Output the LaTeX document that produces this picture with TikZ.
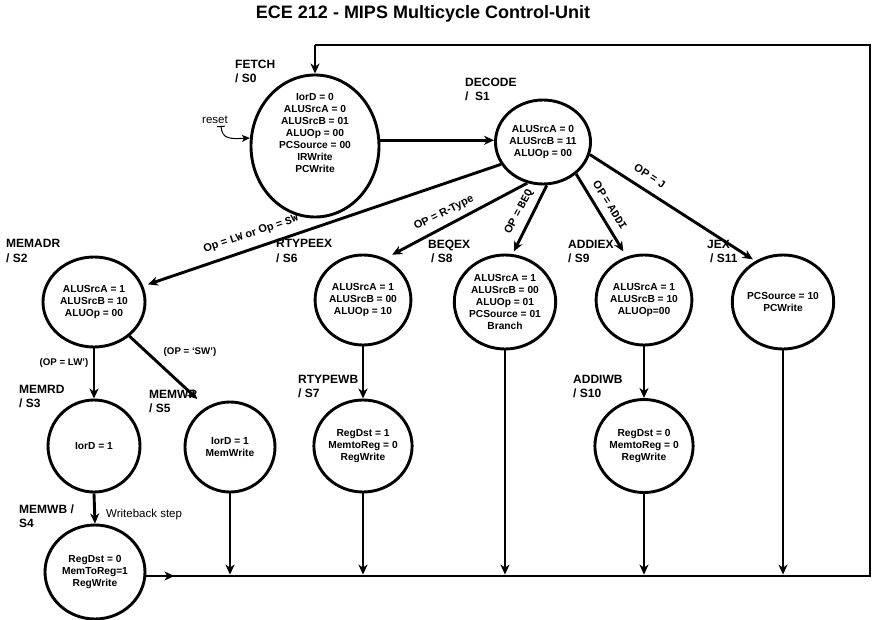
\documentclass[tikz,border=0pt]{standalone}
\usepackage{fontspec}
\setmainfont{Liberation Sans}
\setsansfont{Liberation Sans}
\setmonofont{Liberation Mono}
\usetikzlibrary{arrows.meta}
\usetikzlibrary{shapes.geometric}
\newcommand*{\lwd  }{2.9pt}
\newcommand*{\busy }{576}
\newcommand*{\loopy}{45}
\newcommand*{\loopx}{870}

\begin{document}
\begin{tikzpicture}[x=1pt, y=-1pt, font=\sffamily,
    fsm/.style   = {ellipse, draw, line width=\lwd, inner sep=0pt, align=center,
                    font=\sffamily\bfseries\fontsize{10.2}{12}\selectfont},
    stlbl/.style = {anchor=base west, align=left, inner sep=0pt,
                    font=\sffamily\bfseries\fontsize{12}{14}\selectfont},
    guard/.style = {inner sep=0pt, font=\sffamily\bfseries\fontsize{11}{12}\selectfont},
    link/.style  = {line width=\lwd, -{Stealth[length=10pt, width=9pt, inset=3pt]}},
    wire/.style  = {line width=\lwd}]
    \useasboundingbox (0,0) rectangle (875,620);
    \node [font=\sffamily\bfseries\fontsize{18}{20}\selectfont] (title) at (423,14) {ECE 212 - MIPS Multicycle Control-Unit};

    % states
    \node [fsm, minimum width=128pt, minimum height=142pt] (S0) at (315,146) {};
    \node [fsm, draw=none] (S0txt) at ([yshift=13pt]S0.center) {IorD = 0\\ALUSrcA = 0\\ALUSrcB = 01\\ALUOp = 00\\PCSource = 00\\IRWrite\\PCWrite};
    \node [fsm, minimum width=90pt,  minimum height=84pt] (S1)  at (543,142) {ALUSrcA = 0\\ALUSrcB = 11\\ALUOp = 00};
    \node [fsm, minimum width=102pt, minimum height=90pt] (S2)  at (94,302)  {ALUSrcA = 1\\ALUSrcB = 10\\ALUOp = 00};
    \node [fsm, minimum width=88pt,  minimum height=90pt] (S6)  at (363,300) {ALUSrcA = 1\\ALUSrcB = 00\\ALUOp = 10};
    \node [fsm, minimum width=96pt,  minimum height=94pt] (S8)  at (505,302) {ALUSrcA = 1\\ALUSrcB = 00\\ALUOp = 01\\PCSource = 01\\Branch};
    \node [fsm, minimum width=92pt,  minimum height=90pt] (S9)  at (644,300) {ALUSrcA = 1\\ALUSrcB = 10\\ALUOp=00};
    \node [fsm, minimum width=94pt,  minimum height=94pt] (S11) at (783,302) {PCSource = 10\\PCWrite};
    \node [fsm, minimum width=92pt,  minimum height=92pt] (S3)  at (94,446)  {IorD = 1};
    \node [fsm, minimum width=90pt,  minimum height=90pt] (S5)  at (230,447) {IorD = 1\\MemWrite};
    \node [fsm, minimum width=90pt,  minimum height=92pt] (S7)  at (363,446) {RegDst = 1\\MemtoReg = 0\\RegWrite};
    \node [fsm, minimum width=93pt,  minimum height=93pt] (S10) at (644,446) {RegDst = 0\\MemtoReg = 0\\RegWrite};
    \node [fsm, minimum width=100pt, minimum height=94pt] (S4)  at (95,572)  {RegDst = 0\\MemToReg=1\\RegWrite};

    \node [stlbl] (nS0)  at (235,83)  {FETCH\\/ S0};
    \node [stlbl] (nS1)  at (465,101) {DECODE\\/ \ S1};
    \node [stlbl] (nS2)  at (6,262)   {MEMADR\\/ S2};
    \node [stlbl] (nS6)  at (276,262) {RTYPEEX\\/ S6};
    \node [stlbl] (nS8)  at (428,263) {BEQEX\\\hspace{3pt}/ S8};
    \node [stlbl] (nS9)  at (568,263) {ADDIEX\\/ S9};
    \node [stlbl] (nS11) at (707,263) {JEX\\\hspace{3pt}/ S11};
    \node [stlbl] (nS3)  at (19,407)  {MEMRD\\/ S3};
    \node [stlbl] (nS5)  at (149,412) {MEMWR\\/ S5};
    \node [stlbl] (nS7)  at (298,397) {RTYPEWB\\/ S7};
    \node [stlbl] (nS10) at (573,397) {ADDIWB\\/ S10};
    \node [stlbl] (nS4)  at (19,527)  {MEMWB /\\S4};

    % reset
    \node [font=\sffamily\fontsize{11.5}{13}\selectfont, inner sep=0pt] (rst) at (215,120) {reset};
    \draw [line width=1pt, {Bar[width=8pt, line width=1pt]}-{Stealth[length=8pt, width=7pt, inset=2pt]}]
        ([xshift=6pt, yshift=-2pt]rst.south) .. controls (222,139) and (230,139) .. (S0.173);

    % transitions
    \draw [link] (S0.5) -- (S0.5 -| S1.west);
    \draw [link, shorten >=5pt] (S1.208) -- (S2.18);
    \draw [link, shorten >=8pt] (S1.249) -- (S6.62);
    \draw [link, shorten >=3pt] (S1.275) -- (S8.81);
    \draw [link, shorten >=6pt] (S1.316) -- (S9.112);
    \draw [link, shorten >=3pt] (S1.345) -- (S11.124);
    \draw [link] (S2.south) -- (S3.north);
    \draw [link, shorten >=12pt] (S2.316) -- (S5.121);
    \draw [link] (S3.south) -- (S4.north);
    \draw [link] (S6.south) -- (S7.north);
    \draw [link] (S9.south) -- (S10.north);

    \node [guard, rotate=18.5]  (gLS)   at (251,234) {Op = \texttt{LW} or Op = \texttt{SW}};
    \node [guard, rotate=26.5]  (gR)    at (444,213) {OP = R-Type};
    \node [guard, rotate=62]    (gBeq)  at (519,212) {OP = \texttt{BEQ}};
    \node [guard, rotate=-58]   (gAddi) at (610,205) {OP = \texttt{ADDI}};
    \node [guard, rotate=-32.5] (gJ)    at (650,176) {OP = \texttt{J}};
    \node [guard, font=\sffamily\bfseries\fontsize{9.7}{11}\selectfont] (gLw) at (64,363)  {(OP = LW')};
    \node [guard, font=\sffamily\bfseries\fontsize{9.7}{11}\selectfont] (gSw) at (190,352) {(OP = `SW')};
    \node [anchor=west, inner sep=0pt, font=\sffamily\fontsize{11.5}{13}\selectfont] (wb) at (106,515) {Writeback step};

    % back to fetch
    \coordinate (busR) at (\loopx,\busy);
    \coordinate (busT) at (\loopx,\loopy);
    \coordinate (retT) at (S0.north |- busT);
    \draw [wire] (S4.east |- busR) -- (busR) -- (busT) -- (retT);
    \draw [link] (retT) -- (S0.north);
    \draw [link] (S4.east |- busR) -- ++(28,0);
    \draw [link, shorten >=1.4pt] (S5) -- (S5 |- busR);
    \draw [link, shorten >=1.4pt] (S7) -- (S7 |- busR);
    \draw [link, shorten >=1.4pt] (S8) -- (S8 |- busR);
    \draw [link, shorten >=1.4pt] (S10) -- (S10 |- busR);
    \draw [link, shorten >=1.4pt] (S11) -- (S11 |- busR);
    %\draw [wire] (S4.east) -- (busR);
\end{tikzpicture}
\end{document}
